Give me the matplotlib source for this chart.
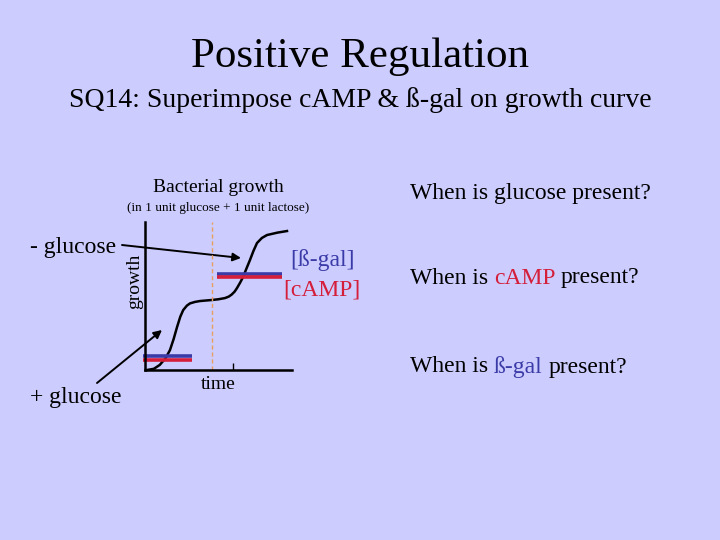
import matplotlib
matplotlib.use("Agg")
import matplotlib.pyplot as plt

# slide colours
BG = "#ccccff"
BLUE = "#3b3ba8"
RED = "#d41e3a"
SERIF = ["Liberation Serif", "DejaVu Serif"]

# growth curve (time, growth as fractions of the axes)
time_pts = [0.014, 0.06, 0.10, 0.14, 0.17, 0.195, 0.218, 0.24, 0.26, 0.285,
            0.306, 0.34, 0.374, 0.42, 0.456, 0.50, 0.544, 0.57, 0.59, 0.61,
            0.626, 0.647, 0.667, 0.69, 0.714, 0.738, 0.762, 0.795, 0.83,
            0.90, 0.966]
growth_pts = [0.0, 0.008, 0.034, 0.08, 0.135, 0.21, 0.29, 0.36, 0.405, 0.435,
              0.45, 0.46, 0.466, 0.47, 0.473, 0.478, 0.486, 0.496, 0.51,
              0.53, 0.554, 0.59, 0.628, 0.685, 0.743, 0.805, 0.858, 0.892,
              0.912, 0.928, 0.939]

# enzyme level bars: (start, end, level)
bar_starts = [-0.014, 0.49]
bar_ends = [0.32, 0.93]
bar_levels = [0.08, 0.64]

glucose_gone = 0.456   # dashed line
tick_time = 0.6

fig = plt.figure(figsize=(7.2, 5.4), dpi=100, facecolor=BG)

# full slide overlay in pixel coordinates for the text
page = fig.add_axes([0, 0, 1, 1])
page.set_xlim(0, 720)
page.set_ylim(540, 0)
page.axis("off")

page.text(360, 57, "Positive Regulation", ha="center", va="center",
          fontsize=31, family=SERIF)
page.text(360, 100, "SQ14: Superimpose cAMP & ß-gal on growth curve",
          ha="center", va="center", fontsize=20, family=SERIF)

page.text(30, 247, "- glucose", ha="left", va="center", fontsize=17, family=SERIF)
page.text(30, 397, "+ glucose", ha="left", va="center", fontsize=17, family=SERIF)
page.text(322, 260, "[ß-gal]", ha="center", va="center", fontsize=17,
          family=SERIF, color=BLUE)
page.text(322, 290, "[cAMP]", ha="center", va="center", fontsize=17,
          family=SERIF, color=RED)

page.text(410, 193, "When is glucose present?", ha="left", va="center",
          fontsize=17, family=SERIF)

fig.canvas.draw()
r = fig.canvas.get_renderer()


def text_width(s):
    t = page.text(0, 0, s, fontsize=17, family=SERIF)
    w = t.get_window_extent(renderer=r).width
    t.remove()
    return w


def question(y, word, col):
    # "When is <word> present?" with the word in colour
    head = "When is "
    full = head + word + " present?"
    x_word = 410 + text_width(head + word) - text_width(word)
    x_tail = 410 + text_width(full) - text_width("present?")
    page.text(410, y, "When is", ha="left", va="center", fontsize=17,
              family=SERIF)
    page.text(x_word, y, word, ha="left", va="center", fontsize=17,
              family=SERIF, color=col)
    page.text(x_tail, y, "present?", ha="left", va="center", fontsize=17,
              family=SERIF)


question(278, "cAMP", RED)
question(367, "ß-gal", BLUE)

# the growth sketch
ax = fig.add_axes([145 / 720, 1 - 370 / 540, 147 / 720, 148 / 540])
ax.set_xlim(0, 1)
ax.set_ylim(0, 1)
ax.patch.set_alpha(0)
for s in ["top", "right"]:
    ax.spines[s].set_visible(False)
ax.spines["left"].set_linewidth(1.8)
ax.spines["bottom"].set_linewidth(1.8)
ax.set_xticks([tick_time])
ax.set_xticklabels([""])
ax.tick_params(axis="x", direction="in", length=5, width=1)
ax.set_yticks([])

ax.plot(time_pts, growth_pts, color="black", lw=1.8, clip_on=False)
ax.plot([glucose_gone, glucose_gone], [0, 1], color="#e8a060", lw=1,
        ls=(0, (3, 2)), clip_on=False)
for x0, x1, lv in zip(bar_starts, bar_ends, bar_levels):
    ax.plot([x0, x1], [lv + 0.012, lv + 0.012], color=BLUE, lw=2.6,
            solid_capstyle="butt", clip_on=False)
    ax.plot([x0, x1], [lv - 0.012, lv - 0.012], color=RED, lw=2.6,
            solid_capstyle="butt", clip_on=False)

ax.set_xlabel("time", fontsize=14, family=SERIF, labelpad=1)
ax.set_ylabel("growth", fontsize=14, family=SERIF)
ax.yaxis.set_label_coords(-0.015, 0.6)
ax.text(0.5, 1.23, "Bacterial growth", transform=ax.transAxes, ha="center",
        va="center", fontsize=14, family=SERIF)
ax.text(0.5, 1.095, "(in 1 unit glucose + 1 unit lactose)",
        transform=ax.transAxes, ha="center", va="center", fontsize=9.5,
        family=SERIF)

# arrows from the glucose labels into the curve
page.annotate("", xy=(241, 258), xytext=(122, 245),
              arrowprops=dict(arrowstyle="-|>", color="black", lw=1.4,
                              mutation_scale=12, shrinkA=0, shrinkB=0))
page.annotate("", xy=(162, 330), xytext=(97, 383),
              arrowprops=dict(arrowstyle="-|>", color="black", lw=1.4,
                              mutation_scale=12, shrinkA=0, shrinkB=0))

fig.savefig("out.png", dpi=100, facecolor=BG)
